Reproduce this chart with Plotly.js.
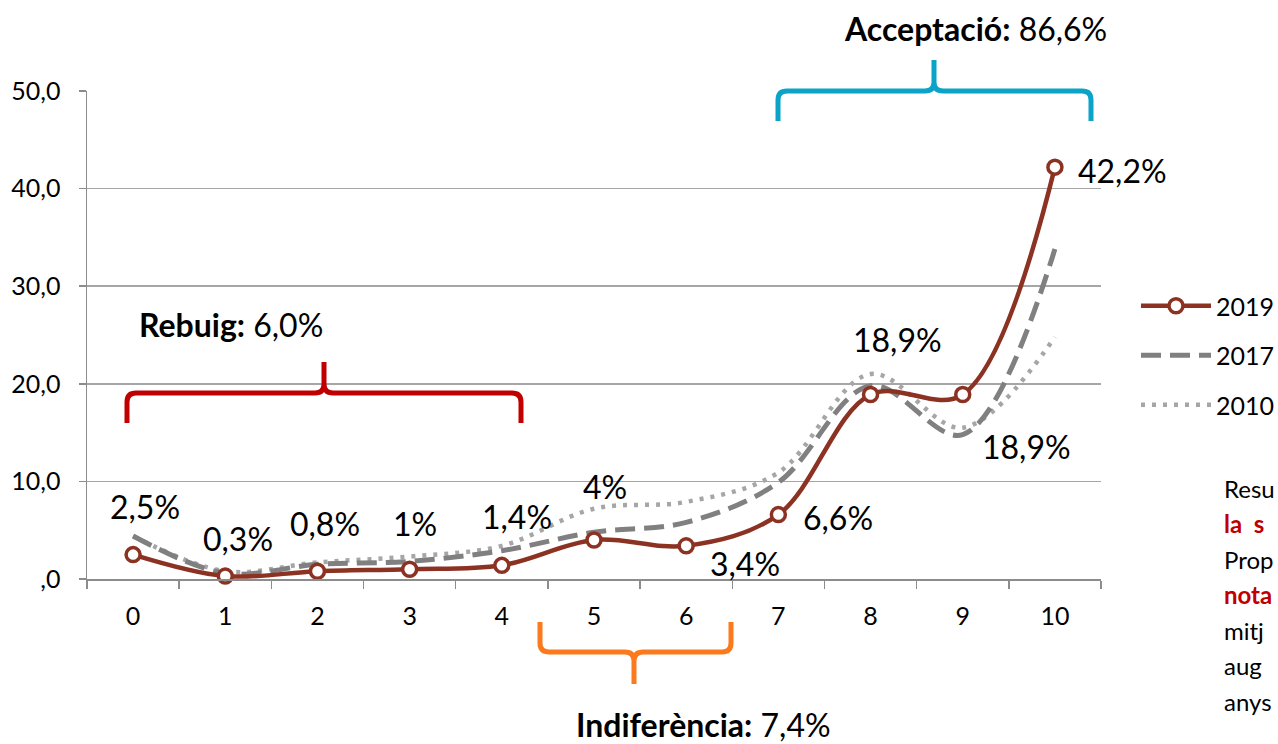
<!DOCTYPE html>
<html><head><meta charset="utf-8">
<script src="https://cdn.plot.ly/plotly-3.0.1.min.js"></script>
<style>html,body{margin:0;padding:0;background:#fff;} #chart{width:1278px;height:744px;}</style>
</head><body><div id="chart"></div>
<script>
// ---- data ----
const categories = ['0','1','2','3','4','5','6','7','8','9','10'];
const values2019 = [2.5, 0.3, 0.8, 1.0, 1.4, 4.0, 3.4, 6.6, 18.9, 18.9, 42.2];
const values2017 = [4.4, 0.6, 1.5, 1.8, 2.9, 4.8, 5.8, 9.9, 19.8, 14.8, 33.8];
const values2010 = [4.4, 0.8, 1.7, 2.3, 3.4, 7.2, 7.9, 10.9, 21.0, 15.5, 24.8];
const labels2019 = ['2,5%','0,3%','0,8%','1%','1,4%','4%','3,4%','6,6%','18,9%','18,9%','42,2%'];
const seriesNames = ['2019','2017','2010'];
const yTickValues = [0, 10, 20, 30, 40, 50];
const yTickLabels = [',0','10,0','20,0','30,0','40,0','50,0'];
const groupTitles = ['<b>Rebuig:</b> 6,0%', '<b>Indiferència:</b> 7,4%', '<b>Acceptació:</b> 86,6%'];
const sideLines = ['Resu','<b>la&nbsp;&nbsp;s</b>','Prop','<b>nota</b>','mitj','aug','anys'];

// ---- layout helpers (pixels -> paper) ----
const W = 1278, H = 744;
const M = {l: 87, r: 177, t: 91, b: 165, autoexpand: false};
const PW = W - M.l - M.r, PH = H - M.t - M.b;
const px = x => (x - M.l) / PW;
const py = y => (H - M.b - y) / PH;

// label offsets (pixels) relative to each 2019 point
const labelOffsets = [[12,-48],[13,-38],[8,-48],[5,-46],[15,-49],[11,-53],[59,18],[60,3],[27,-55],[64,52],[68,3]];

function bracePath(L, R, C, h, end, peak, r) {
  const s = Math.sign(end - h);
  const P = (x, y) => px(x).toFixed(5) + ',' + py(y).toFixed(5);
  return 'M' + P(L, end) + ' L' + P(L, h + s*r) + ' Q' + P(L, h) + ' ' + P(L + r, h) +
         ' L' + P(C - r, h) + ' Q' + P(C, h) + ' ' + P(C, h - s*r) + ' L' + P(C, peak) +
         ' M' + P(C, peak) + ' L' + P(C, h - s*r) + ' Q' + P(C, h) + ' ' + P(C + r, h) +
         ' L' + P(R - r, h) + ' Q' + P(R, h) + ' ' + P(R, h + s*r) + ' L' + P(R, end);
}

const red = '#8C3223';
const traces = [
  {x: categories, y: values2010, name: seriesNames[2], legendgroup: 'g2010', legendrank: 3, type: 'scatter', mode: 'lines',
   line: {color: '#A6A6A6', width: 4.5, dash: '4px,7px', shape: 'spline'}, hoverinfo: 'skip'},
  {x: categories, y: values2017, name: seriesNames[1], legendgroup: 'g2017', legendrank: 2, type: 'scatter', mode: 'lines',
   line: {color: '#808080', width: 5, dash: '20px,9px', shape: 'spline'}, hoverinfo: 'skip'},
  {x: categories, y: values2019, name: seriesNames[0], legendgroup: 'g2019', legendrank: 1, type: 'scatter', mode: 'lines+markers',
   line: {color: red, width: 4.5, shape: 'spline'},
   marker: {symbol: 'circle', size: 14, color: '#ffffff', line: {color: red, width: 3.5}},
   cliponaxis: false, hoverinfo: 'skip'}
];

const annotations = [];
categories.forEach((c, i) => {
  annotations.push({x: c, y: values2019[i], xref: 'x', yref: 'y', text: labels2019[i], showarrow: false,
    xshift: labelOffsets[i][0], yshift: -labelOffsets[i][1], font: {size: 32, color: '#000'}});
});
const titlePos = [[231, 324], [703, 724], [975, 28]];
groupTitles.forEach((t, i) => {
  annotations.push({x: px(titlePos[i][0]), y: py(titlePos[i][1]), xref: 'paper', yref: 'paper', text: t,
    showarrow: false, xanchor: 'center', yanchor: 'middle', font: {size: 32, color: '#000'}});
});
sideLines.forEach((t, i) => {
  annotations.push({x: px(1222), y: py(488 + 35.5*i), xref: 'paper', yref: 'paper', text: t,
    showarrow: false, xanchor: 'left', yanchor: 'middle',
    font: {size: 24, color: (i === 1 || i === 3) ? '#C00000' : '#000'}});
});

const shapes = [
  {type: 'path', xref: 'paper', yref: 'paper', path: bracePath(127, 521, 324, 393, 423, 362, 9),
   line: {color: '#C00000', width: 5}},
  {type: 'path', xref: 'paper', yref: 'paper', path: bracePath(778, 1091, 934, 91, 121, 60, 9),
   line: {color: '#0BA3C8', width: 5}},
  {type: 'path', xref: 'paper', yref: 'paper', path: bracePath(540, 731, 634, 652, 622, 684, 9),
   line: {color: '#FB7A1E', width: 5}}
];

const layout = {
  width: W, height: H,
  margin: M,
  paper_bgcolor: '#fff', plot_bgcolor: '#fff',
  font: {family: 'Lato, "Open Sans", sans-serif', color: '#000', size: 25},
  showlegend: true,
  legend: {x: px(1136), y: py(283), xanchor: 'left', yanchor: 'top', itemwidth: 70,
    traceorder: 'grouped', tracegroupgap: 14, font: {size: 25, color: '#000'}, bgcolor: 'rgba(0,0,0,0)'},
  xaxis: {type: 'category', range: [-0.5, 10.5], showgrid: false, zeroline: false,
    showline: true, linecolor: '#8C8C8C', linewidth: 1.5,
    ticks: 'outside', tickson: 'boundaries', ticklen: 8, tickcolor: '#8C8C8C', tickwidth: 1.5,
    ticklabelstandoff: 14, tickfont: {size: 25}},
  yaxis: {range: [0, 50], tickvals: yTickValues, ticktext: yTickLabels,
    showgrid: true, gridcolor: '#A6A6A6', gridwidth: 1.5, zeroline: false,
    showline: true, linecolor: '#8C8C8C', linewidth: 1.5,
    ticks: 'outside', ticklen: 7, tickcolor: '#8C8C8C', tickwidth: 1.5,
    ticklabelstandoff: 13, tickfont: {size: 25}},
  annotations: annotations,
  shapes: shapes
};

Plotly.newPlot('chart', traces, layout, {staticPlot: true, displayModeBar: false});
</script>
</body></html>
